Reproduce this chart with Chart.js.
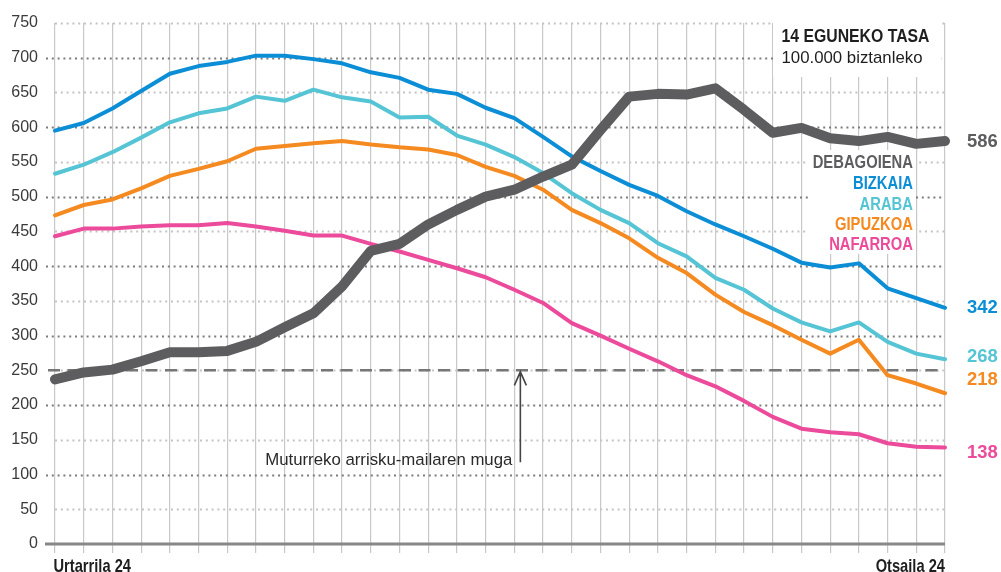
<!DOCTYPE html>
<html>
<head>
<meta charset="utf-8">
<script src="https://cdn.jsdelivr.net/npm/chart.js@4.4.1/dist/chart.umd.min.js"></script>
<style>
html,body{margin:0;padding:0;background:#fff;}
#wrap{width:1001px;height:572px;position:relative;}
</style>
</head>
<body>
<div id="wrap"><canvas id="c" width="1001" height="572"></canvas></div>
<script>
// ---- DATA ----
const categories = ['01-24','01-25','01-26','01-27','01-28','01-29','01-30','01-31',
  '02-01','02-02','02-03','02-04','02-05','02-06','02-07','02-08','02-09','02-10',
  '02-11','02-12','02-13','02-14','02-15','02-16','02-17','02-18','02-19','02-20',
  '02-21','02-22','02-23','02-24'];
const debagoiena = [237,247,251,263,276,276,278,291,312,332,371,422,432,460,481,500,510,529,546,596,644,648,647,656,625,592,599,584,580,586,576,580];
const bizkaia    = [595,606,627,652,677,688,694,703,703,698,692,679,671,654,648,628,613,586,558,537,517,501,479,460,443,425,405,398,404,368,354,340];
const araba      = [533,546,564,585,607,620,627,644,638,654,643,637,614,615,588,575,557,534,505,481,462,433,414,383,366,339,319,306,319,291,274,266];
const gipuzkoa   = [473,488,496,512,530,540,551,569,573,577,580,575,571,568,560,543,530,510,481,462,440,412,390,359,334,315,294,274,294,243,231,217];
const nafarroa   = [443,454,454,457,459,459,462,457,451,444,444,432,421,409,397,384,366,347,318,300,281,263,243,227,206,183,166,161,158,145,140,139];
const seriesNames = ['DEBAGOIENA','BIZKAIA','ARABA','GIPUZKOA','NAFARROA'];
const endLabels = ['586','342','268','218','138'];
const endLabelValues = [586,342,268,218,138];
const xTickLabels = ['Urtarrila 24','Otsaila 24'];
const yMin = 0, yMax = 750, yStep = 50;
const thresholdValue = 250;
const thresholdLabel = 'Muturreko arrisku-mailaren muga';
const titleText = '14 EGUNEKO TASA';
const subtitleText = '100.000 biztanleko';

// ---- STYLE ----
const colors = ['#5d5d5f','#0b8ed6','#55c4d4','#f58a20','#ec4a9a'];
const widths = [10,4,4,4,4];
const FONT = '"Liberation Sans", Arial, Helvetica, sans-serif';

function txt(ctx, s, x, yCenter, size, bold, color, align, sx, targetW) {
  ctx.save();
  ctx.font = (bold ? 'bold ' : '') + size + 'px ' + FONT;
  ctx.fillStyle = color;
  ctx.textBaseline = 'alphabetic';
  ctx.textAlign = 'left';
  const mw = ctx.measureText(s).width;
  if (targetW) sx = targetW / mw;
  const w = mw * sx;
  const x0 = align === 'right' ? x - w : (align === 'center' ? x - w / 2 : x);
  ctx.translate(x0, yCenter + size * 0.358);
  ctx.scale(sx, 1);
  ctx.fillText(s, 0, 0);
  ctx.restore();
}

const series = [debagoiena, bizkaia, araba, gipuzkoa, nafarroa];
const datasets = series.map((d, i) => ({
  label: seriesNames[i],
  data: d,
  borderColor: colors[i],
  backgroundColor: colors[i],
  borderWidth: widths[i],
  pointRadius: 0,
  pointHoverRadius: 0,
  tension: 0,
  borderJoinStyle: 'round',
  borderCapStyle: 'round',
  fill: false
}));

const decor = {
  id: 'decor',
  beforeDatasetsDraw(chart) {
    const ctx = chart.ctx, ya = chart.scales.y, xa = chart.scales.x, ca = chart.chartArea;
    ctx.save();
    for (let v = yMin + yStep; v <= yMax; v += yStep) {
      const y = Math.round(ya.getPixelForValue(v)) + 0.5;
      const major = v % 100 === 0;
      ctx.beginPath();
      ctx.setLineDash([2, 3.8]);
      ctx.lineWidth = 2;
      ctx.strokeStyle = major ? '#7c7c7c' : '#c4c4c4';
      ctx.moveTo(major ? ca.left - 9 : ca.left, y);
      ctx.lineTo(ca.right, y);
      ctx.stroke();
    }
    ctx.setLineDash([]);
    const y0 = ya.getPixelForValue(0);
    ctx.beginPath();
    ctx.lineWidth = 3;
    ctx.strokeStyle = '#888';
    ctx.moveTo(ca.left - 10, y0);
    ctx.lineTo(ca.right, y0);
    ctx.stroke();
    ctx.fillStyle = '#fff';
    ctx.fillRect(773, 0, 168, 77);
    ctx.fillRect(808, 150, 108, 104);
    const yt = ya.getPixelForValue(thresholdValue);
    ctx.beginPath();
    ctx.setLineDash([12, 7.5]);
    ctx.lineWidth = 2.5;
    ctx.strokeStyle = '#777';
    ctx.moveTo(ca.left - 7, yt);
    ctx.lineTo(ca.right, yt);
    ctx.stroke();
    ctx.restore();
  },
  afterDatasetsDraw(chart) {
    const ctx = chart.ctx, ya = chart.scales.y, xa = chart.scales.x, ca = chart.chartArea;
    txt(ctx, titleText, 781.5, 35, 18.6, true, '#1e1e1e', 'left', 1, 148);
    txt(ctx, subtitleText, 781.5, 56.7, 17, false, '#1e1e1e', 'left', 1, 141);
    const legY = [161.7, 182.3, 203.3, 223.3, 243.3];
    seriesNames.forEach((n, i) => txt(ctx, n, 913, legY[i], 18.5, true, colors[i], 'right', 0.8));
    const offs = [3, 0, -3, -14, 3];
    endLabels.forEach((l, i) => {
      const y = ya.getPixelForValue(endLabelValues[i]) + offs[i];
      txt(ctx, l, 967, y, 19, true, colors[i], 'left', 0.97);
    });
    const xl = xa.getPixelForValue(0), xr = xa.getPixelForValue(categories.length - 1);
    txt(ctx, xTickLabels[0], xl - 1.5, 565.5, 17.7, true, '#1e1e1e', 'left', 0.83);
    txt(ctx, xTickLabels[1], xr, 565.5, 17.7, true, '#1e1e1e', 'right', 0.83);
    const yt = ya.getPixelForValue(thresholdValue);
    const ax = xa.getPixelForValue(16) + 6;
    ctx.save();
    ctx.strokeStyle = '#444';
    ctx.lineWidth = 1.6;
    ctx.beginPath();
    ctx.moveTo(ax, yt + 1.5);
    ctx.lineTo(ax, yt + 92);
    ctx.moveTo(ax - 6, yt + 15);
    ctx.lineTo(ax, yt + 1.5);
    ctx.lineTo(ax + 6, yt + 15);
    ctx.stroke();
    ctx.restore();
    txt(ctx, thresholdLabel, ax - 8, yt + 89, 16.8, false, '#2a2a2a', 'right', 1);
  }
};

new Chart(document.getElementById('c'), {
  type: 'line',
  data: { labels: categories, datasets },
  options: {
    responsive: false,
    devicePixelRatio: 1,
    animation: false,
    events: [],
    layout: { padding: { top: 23, right: 56, left: 0, bottom: 0 } },
    plugins: { legend: { display: false }, tooltip: { enabled: false }, title: { display: false } },
    scales: {
      x: {
        type: 'category',
        offset: false,
        grid: { display: true, color: '#c8c8c8', lineWidth: 1.2, drawTicks: true, tickLength: 9, drawOnChartArea: true },
        border: { display: false },
        ticks: { display: false },
        afterFit(s) { s.height = 28; }
      },
      y: {
        min: yMin, max: yMax,
        grid: { display: false },
        border: { display: false },
        ticks: { stepSize: yStep, padding: 9, color: '#3a3a3a', font: { family: FONT, size: 16 } },
        afterFit(s) { s.width = 55; }
      }
    }
  },
  plugins: [decor]
});
</script>
</body>
</html>
